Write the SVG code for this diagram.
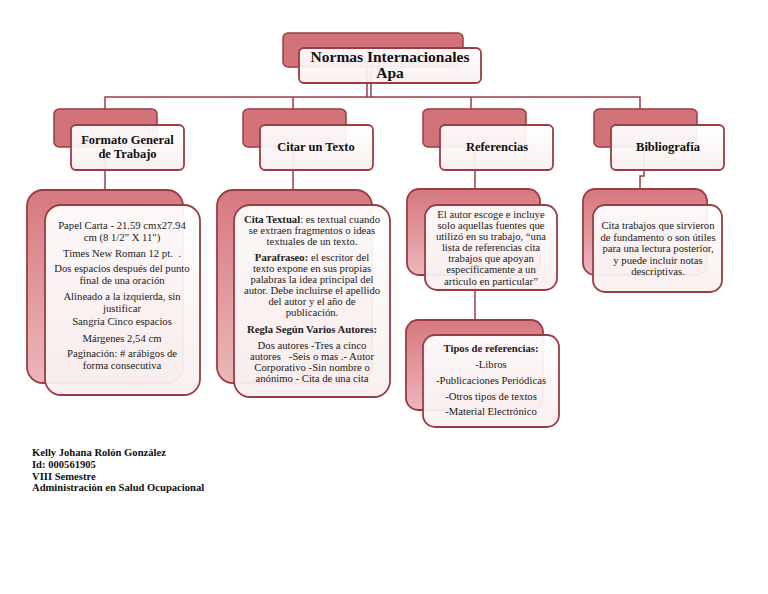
<svg xmlns="http://www.w3.org/2000/svg" width="768" height="594" viewBox="0 0 768 594">
<defs>
<linearGradient id="gBack" x1="0" y1="0" x2="0" y2="1">
<stop offset="0" stop-color="#d67880"/>
<stop offset="1" stop-color="#ebb7b9"/>
</linearGradient>
<linearGradient id="gFront" x1="0" y1="0" x2="0" y2="1">
<stop offset="0" stop-color="#ffffff"/>
<stop offset="1" stop-color="#f9efef"/>
</linearGradient>
<style>
.bh{fill:#d2737a;stroke:#9c3b43;stroke-width:1.5}
.bd{fill:url(#gBack);stroke:#9c3b43;stroke-width:1.8}
.fr{fill:url(#gFront);fill-opacity:0.94;stroke:#9c3b43;stroke-width:1.8}
.cn{fill:none;stroke:#9c3b43;stroke-width:1.5}
.h{font-family:"Liberation Serif","Times New Roman",serif;font-weight:bold;fill:#111;text-anchor:middle}
.t{font-family:"Liberation Serif","Times New Roman",serif;font-size:10.7px;fill:#222;text-anchor:middle}
.b{font-weight:bold}
.f{font-family:"Liberation Serif","Times New Roman",serif;font-size:10.6px;font-weight:bold;fill:#111}
</style>
</defs>
<rect width="768" height="594" fill="#ffffff"/>

<g id="connectors">
<path class="cn" d="M367 67 V97 M371 67 V97"/>
<path class="cn" d="M105 110 V97 H640 V110"/>
<path class="cn" d="M293 97 V110"/>
<path class="cn" d="M471 97 V110"/>
<path class="cn" d="M105 147 V190"/>
<path class="cn" d="M293 147 V190"/>
<path class="cn" d="M475 147 V189"/>
<path class="cn" d="M644 147 V176 H640 V189"/>
<path class="cn" d="M475 275 V320"/>
</g>

<g id="root">
<rect class="bh" x="283" y="33" width="180" height="34" rx="5"/>
<rect class="fr" x="299" y="48" width="182" height="35" rx="5"/>
<text class="h" x="390" y="62" font-size="15.5">Normas Internacionales</text>
<text class="h" x="390" y="78" font-size="15.5">Apa</text>
</g>

<g id="formato">
<rect class="bh" x="54" y="109" width="103" height="38" rx="5"/>
<rect class="fr" x="71" y="125" width="113" height="45" rx="5"/>
<text class="h" x="127.5" y="144" font-size="12.5">Formato General</text>
<text class="h" x="127.5" y="158" font-size="12.5">de Trabajo</text>
</g>

<g id="citar">
<rect class="bh" x="243" y="109" width="103" height="38" rx="5"/>
<rect class="fr" x="260" y="125" width="113" height="45" rx="5"/>
<text class="h" x="316" y="151" font-size="12.5">Citar un Texto</text>
</g>

<g id="referencias">
<rect class="bh" x="423" y="109" width="103" height="38" rx="5"/>
<rect class="fr" x="440" y="125" width="113" height="45" rx="5"/>
<text class="h" x="497" y="151" font-size="12.5">Referencias</text>
</g>

<g id="bibliografia">
<rect class="bh" x="594" y="109" width="103" height="38" rx="5"/>
<rect class="fr" x="611" y="125" width="113" height="45" rx="5"/>
<text class="h" x="668" y="151" font-size="12.5">Bibliografía</text>
</g>

<g id="formato-detalle">
<rect class="bd" x="27" y="190" width="156" height="193" rx="16"/>
<rect class="fr" x="45" y="205" width="155" height="190" rx="16"/>
<text class="t" x="122" y="229">Papel Carta - 21.59 cmx27.94</text>
<text class="t" x="122" y="241">cm (8 1/2" X 11")</text>
<text class="t" x="122" y="257">Times New Roman 12 pt. &#160;.</text>
<text class="t" x="122" y="272">Dos espacios después del punto</text>
<text class="t" x="122" y="284">final de una oración</text>
<text class="t" x="122" y="300">Alineado a la izquierda, sin</text>
<text class="t" x="122" y="312">justificar</text>
<text class="t" x="122" y="325">Sangría Cinco espacios</text>
<text class="t" x="122" y="342">Márgenes 2,54 cm</text>
<text class="t" x="122" y="357">Paginación: # arábigos de</text>
<text class="t" x="122" y="369">forma consecutiva</text>
</g>

<g id="citar-detalle">
<rect class="bd" x="217" y="190" width="155" height="193" rx="16"/>
<rect class="fr" x="234" y="205" width="156" height="192" rx="16"/>
<text class="t" x="312" y="223"><tspan class="b">Cita Textual</tspan>: es textual cuando</text>
<text class="t" x="312" y="234">se extraen fragmentos o ideas</text>
<text class="t" x="312" y="245">textuales de un texto.</text>
<text class="t" x="312" y="261"><tspan class="b">Parafraseo:</tspan> el escritor del</text>
<text class="t" x="312" y="272">texto expone en sus propias</text>
<text class="t" x="312" y="283">palabras la idea principal del</text>
<text class="t" x="312" y="294">autor. Debe incluirse el apellido</text>
<text class="t" x="312" y="305">del autor y el año de</text>
<text class="t" x="312" y="316">publicación.</text>
<text class="t b" x="312" y="333">Regla Según Varios Autores:</text>
<text class="t" x="312" y="349">Dos autores -Tres a cinco</text>
<text class="t" x="312" y="360">autores &#160;&#160;-Seis o mas .- Autor</text>
<text class="t" x="312" y="371">Corporativo -Sin nombre o</text>
<text class="t" x="312" y="382">anónimo - Cita de una cita</text>
</g>

<g id="referencias-detalle">
<rect class="bd" x="407" y="189" width="133" height="86" rx="12"/>
<rect class="fr" x="425" y="205" width="132" height="85" rx="12"/>
<text class="t" x="491" y="218">El autor escoge e incluye</text>
<text class="t" x="491" y="229">solo aquellas fuentes que</text>
<text class="t" x="491" y="240">utilizó en su trabajo, “una</text>
<text class="t" x="491" y="251">lista de referencias cita</text>
<text class="t" x="491" y="262">trabajos que apoyan</text>
<text class="t" x="491" y="273">específicamente a un</text>
<text class="t" x="491" y="285">articulo en particular”</text>
</g>

<g id="tipos">
<rect class="bd" x="406" y="320" width="137" height="90" rx="12"/>
<rect class="fr" x="423" y="335" width="136" height="92" rx="12"/>
<text class="t b" x="491" y="352">Tipos de referencias:</text>
<text class="t" x="491" y="368">-Libros</text>
<text class="t" x="491" y="384">-Publicaciones Periódicas</text>
<text class="t" x="491" y="400">-Otros tipos de textos</text>
<text class="t" x="491" y="415">-Material Electrónico</text>
</g>

<g id="bibliografia-detalle">
<rect class="bd" x="583" y="189" width="124" height="86" rx="12"/>
<rect class="fr" x="593" y="205" width="129" height="87" rx="12"/>
<text class="t" x="658" y="229">Cita trabajos que sirvieron</text>
<text class="t" x="658" y="240.5">de fundamento o son útiles</text>
<text class="t" x="658" y="252">para una lectura posterior,</text>
<text class="t" x="658" y="263.5">y puede incluir notas</text>
<text class="t" x="658" y="275">descriptivas.</text>
</g>

<g id="autor">
<text class="f" x="32" y="456">Kelly Johana Rolón González</text>
<text class="f" x="32" y="468">Id: 000561905</text>
<text class="f" x="32" y="479.5">VIII Semestre</text>
<text class="f" x="32" y="491">Administración en Salud Ocupacional</text>
</g>
</svg>
